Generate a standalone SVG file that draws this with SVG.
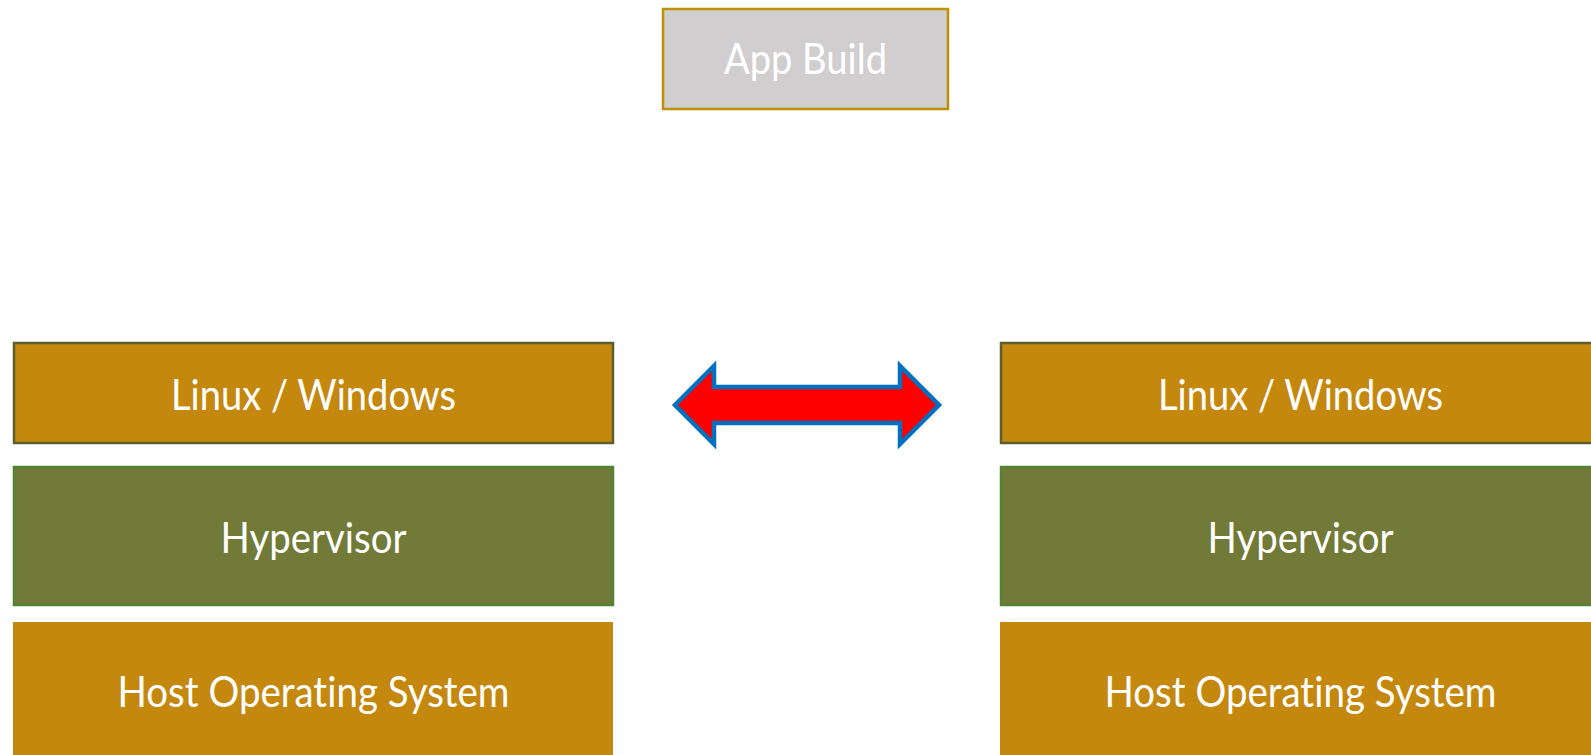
<svg xmlns="http://www.w3.org/2000/svg" width="1591" height="755" viewBox="0 0 1591 755">
<style>
.t{font-family:Lato,"Open Sans","Liberation Sans",sans-serif;font-size:43px;fill:#ffffff;text-anchor:middle;font-variant-ligatures:none}
.os{fill:#c5880f;stroke:#5b5f2c;stroke-width:2.5}
.hv{fill:#717a36;stroke:#548235;stroke-width:2.5}
.host{fill:#c5880f}
.app{fill:#d0cecf;stroke:#bf9000;stroke-width:2.5}
</style>
<rect width="1591" height="755" fill="#ffffff"/>
<g id="app-build">
<rect class="app" x="663" y="9" width="285" height="100"/>
<text class="t" x="805.5" y="74" textLength="163" lengthAdjust="spacingAndGlyphs">App Build</text>
</g>
<g id="left-guest-os">
<rect class="os" x="14" y="343" width="599" height="100"/>
<text class="t" x="313.5" y="410" textLength="285" lengthAdjust="spacingAndGlyphs">Linux / Windows</text>
</g>
<g id="left-hypervisor">
<rect class="hv" x="14" y="467" width="599" height="138"/>
<text class="t" x="313.5" y="553" textLength="186" lengthAdjust="spacingAndGlyphs">Hypervisor</text>
</g>
<g id="left-host-os">
<rect class="host" x="13" y="622" width="600" height="140"/>
<text class="t" x="313.5" y="707" textLength="392" lengthAdjust="spacingAndGlyphs">Host Operating System</text>
</g>
<g id="right-guest-os">
<rect class="os" x="1001" y="343" width="610" height="100"/>
<text class="t" x="1300.5" y="410" textLength="285" lengthAdjust="spacingAndGlyphs">Linux / Windows</text>
</g>
<g id="right-hypervisor">
<rect class="hv" x="1001" y="467" width="610" height="138"/>
<text class="t" x="1300.5" y="553" textLength="186" lengthAdjust="spacingAndGlyphs">Hypervisor</text>
</g>
<g id="right-host-os">
<rect class="host" x="1000" y="622" width="610" height="140"/>
<text class="t" x="1300.5" y="707" textLength="392" lengthAdjust="spacingAndGlyphs">Host Operating System</text>
</g>
<g id="connectors">
<path d="M675,405 L714,366 L714,387 L900,387 L900,366 L939,405 L900,444 L900,423 L714,423 L714,444 Z" fill="#ff0000" stroke="#0070c0" stroke-width="4.5" stroke-linejoin="miter"/>
</g>
</svg>
